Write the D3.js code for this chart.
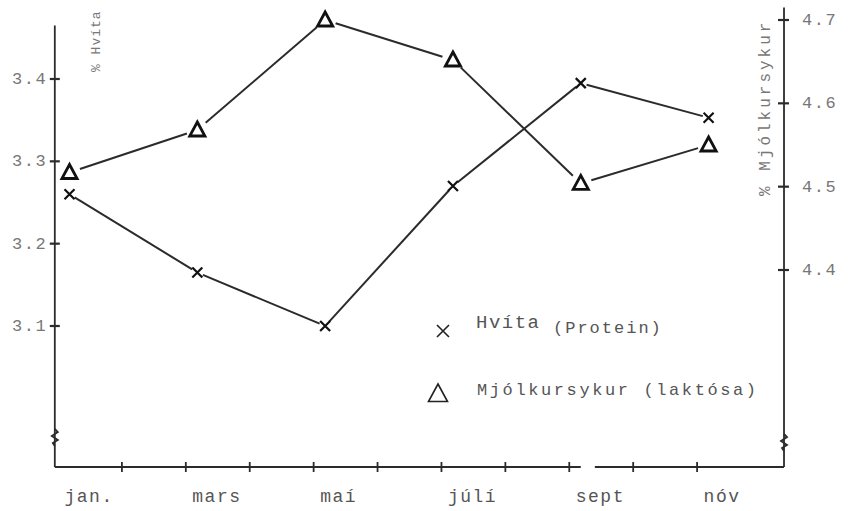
<!DOCTYPE html>
<html lang="is">
<head>
    <meta charset="utf-8" />
    <title>Hvíta og mjólkursykur</title>
    <script src="https://d3js.org/d3.v7.min.js"></script>
    <style>
        body { margin: 0; background: #fff; }
        text { font-family: "Liberation Mono", "DejaVu Sans Mono", monospace; }
    </style>
</head>
<body>
<script>
    var w = 850;
    var h = 511;

    // month labels and their index (jan = 0)
    var months = ["jan.", "mars", "maí", "júlí", "sept", "nóv"];
    var monthIdx = [0, 2, 4, 6, 8, 10];
    // % Hvíta (protein), left axis
    var hvita = [3.26, 3.165, 3.10, 3.27, 3.395, 3.353];
    // % Mjólkursykur (laktósa), right axis
    var laktosa = [4.517, 4.568, 4.70, 4.652, 4.504, 4.55];
    var leftTicks = ["3.1", "3.2", "3.3", "3.4"];
    var rightTicks = ["4.4", "4.5", "4.6", "4.7"];

    var baseY = 467;
    var inkDark = "#2b2b2b";

    var xScale = d3.scaleLinear().domain([0, 11]).range([58, 761]);
    var yLeft = d3.scaleLinear().domain([3.1, 3.4]).range([326, 79]);
    var yRight = d3.scaleLinear().domain([4.4, 4.7]).range([270, 20]);
    var leftX = xScale(-0.05);
    var rightX = xScale(11.36);

    // data points sit a little right of the month tick
    function px(i) { return xScale(monthIdx[i] + 0.18); }

    var svg = d3.select("body")
        .append("svg")
        .attr("width", w)
        .attr("height", h);

    // axes
    var axes = svg.append("g")
        .attr("stroke", inkDark)
        .attr("stroke-width", 1.8)
        .attr("fill", "none");

    axes.append("line")
        .attr("x1", leftX).attr("x2", leftX)
        .attr("y1", yLeft(3.465)).attr("y2", baseY);
    axes.append("line")
        .attr("x1", rightX).attr("x2", rightX)
        .attr("y1", yRight(4.715)).attr("y2", baseY);
    // bottom axis with a gap after sept
    axes.append("line")
        .attr("x1", leftX).attr("x2", xScale(8.18))
        .attr("y1", baseY).attr("y2", baseY);
    axes.append("line")
        .attr("x1", xScale(8.4)).attr("x2", rightX)
        .attr("y1", baseY).attr("y2", baseY);

    // axis break marks
    function zigzag(x, y) {
        return "M" + x + "," + (y - 9) +
            " L" + (x + 3) + "," + (y - 6) +
            " L" + (x - 3) + "," + (y - 2) +
            " L" + (x + 3) + "," + (y + 2) +
            " L" + (x - 2) + "," + (y + 5) +
            " L" + x + "," + (y + 8);
    }
    axes.append("path").attr("d", zigzag(leftX, 438));
    axes.append("path").attr("d", zigzag(rightX, 443));

    // bottom ticks
    axes.selectAll(".xtick")
        .data(d3.range(1, 11))
        .enter()
        .append("line")
        .attr("x1", function(d) { return xScale(d); })
        .attr("x2", function(d) { return xScale(d); })
        .attr("y1", baseY - 5)
        .attr("y2", baseY + 5);

    // left ticks
    axes.selectAll(".ltick")
        .data(leftTicks)
        .enter()
        .append("line")
        .attr("x1", leftX - 5).attr("x2", leftX + 5)
        .attr("y1", function(d) { return yLeft(+d); })
        .attr("y2", function(d) { return yLeft(+d); })
        .attr("stroke-width", 2.2);

    // right ticks
    axes.selectAll(".rtick")
        .data(rightTicks)
        .enter()
        .append("line")
        .attr("x1", rightX - 6).attr("x2", rightX + 5)
        .attr("y1", function(d) { return yRight(+d); })
        .attr("y2", function(d) { return yRight(+d); })
        .attr("stroke-width", 2.2);

    // tick labels
    svg.selectAll(".llab")
        .data(leftTicks)
        .enter()
        .append("text")
        .text(function(d) { return d; })
        .attr("x", 12)
        .attr("y", function(d) { return yLeft(+d) + 5; })
        .attr("font-size", "17px")
        .attr("letter-spacing", "1.5px")
        .attr("fill", "#777");

    svg.selectAll(".rlab")
        .data(rightTicks)
        .enter()
        .append("text")
        .text(function(d) { return d; })
        .attr("x", 802)
        .attr("y", function(d) { return yRight(+d) + 5; })
        .attr("font-size", "17px")
        .attr("letter-spacing", "1.5px")
        .attr("fill", "#777");

    // month labels
    svg.selectAll(".mlab")
        .data(months)
        .enter()
        .append("text")
        .text(function(d) { return d; })
        .attr("x", function(d, i) { return px(i) - 5; })
        .attr("y", 502)
        .attr("font-size", "18px")
        .attr("letter-spacing", "1.5px")
        .attr("fill", "#555");

    // axis titles
    svg.append("text")
        .text("% Hvíta")
        .attr("transform", "translate(100,72) rotate(-90)")
        .attr("font-size", "13px")
        .attr("letter-spacing", "1px")
        .attr("fill", "#777");
    svg.append("text")
        .text("% Mjólkursykur")
        .attr("transform", "translate(770,196) rotate(-90)")
        .attr("font-size", "16px")
        .attr("letter-spacing", "3px")
        .attr("fill", "#777");

    // connecting segments with small gaps near the markers
    function segments(vals, y, gapA, gapB) {
        var segs = [];
        for (var i = 0; i < vals.length - 1; i++) {
            var x1 = px(i), y1 = y(vals[i]);
            var x2 = px(i + 1), y2 = y(vals[i + 1]);
            var len = Math.hypot(x2 - x1, y2 - y1);
            var ux = (x2 - x1) / len, uy = (y2 - y1) / len;
            segs.push([x1 + ux * gapA, y1 + uy * gapA, x2 - ux * gapB, y2 - uy * gapB]);
        }
        return segs;
    }

    var lines = svg.append("g")
        .attr("stroke", inkDark)
        .attr("stroke-width", 2);

    lines.selectAll(".hseg")
        .data(segments(hvita, yLeft, 6, 6))
        .enter()
        .append("line")
        .attr("x1", function(d) { return d[0]; })
        .attr("y1", function(d) { return d[1]; })
        .attr("x2", function(d) { return d[2]; })
        .attr("y2", function(d) { return d[3]; });

    lines.selectAll(".lseg")
        .data(segments(laktosa, yRight, 11, 11))
        .enter()
        .append("line")
        .attr("x1", function(d) { return d[0]; })
        .attr("y1", function(d) { return d[1]; })
        .attr("x2", function(d) { return d[2]; })
        .attr("y2", function(d) { return d[3]; });

    // markers
    function crossPath(x, y, s) {
        return "M" + (x - s) + "," + (y - s) + " L" + (x + s) + "," + (y + s) +
            " M" + (x - s) + "," + (y + s) + " L" + (x + s) + "," + (y - s);
    }
    function triPath(x, y, s) {
        return "M" + x + "," + (y - s) +
            " L" + (x + s * 0.95) + "," + (y + s * 0.75) +
            " L" + (x - s * 0.95) + "," + (y + s * 0.75) + " Z";
    }

    svg.selectAll(".cross")
        .data(hvita)
        .enter()
        .append("path")
        .attr("d", function(d, i) { return crossPath(px(i), yLeft(d), 5); })
        .attr("stroke", "#111")
        .attr("stroke-width", 2.2)
        .attr("fill", "none");

    svg.selectAll(".tri")
        .data(laktosa)
        .enter()
        .append("path")
        .attr("d", function(d, i) { return triPath(px(i), yRight(d), 8); })
        .attr("stroke", "#111")
        .attr("stroke-width", 2.8)
        .attr("stroke-linejoin", "miter")
        .attr("fill", "none");

    // legend
    svg.append("path")
        .attr("d", crossPath(443, 331, 6))
        .attr("stroke", "#222")
        .attr("stroke-width", 1.6)
        .attr("fill", "none");
    svg.append("text")
        .text("Hvíta")
        .attr("x", 476).attr("y", 328)
        .attr("font-size", "19px")
        .attr("letter-spacing", "1.5px")
        .attr("fill", "#555");
    svg.append("text")
        .text("(Protein)")
        .attr("x", 553).attr("y", 333)
        .attr("font-size", "17px")
        .attr("letter-spacing", "2px")
        .attr("fill", "#555");

    svg.append("path")
        .attr("d", triPath(438, 394, 10))
        .attr("stroke", "#222")
        .attr("stroke-width", 1.6)
        .attr("fill", "none");
    svg.append("text")
        .text("Mjólkursykur (laktósa)")
        .attr("x", 477).attr("y", 395)
        .attr("font-size", "17px")
        .attr("letter-spacing", "2.6px")
        .attr("fill", "#555");
</script>
</body>
</html>
